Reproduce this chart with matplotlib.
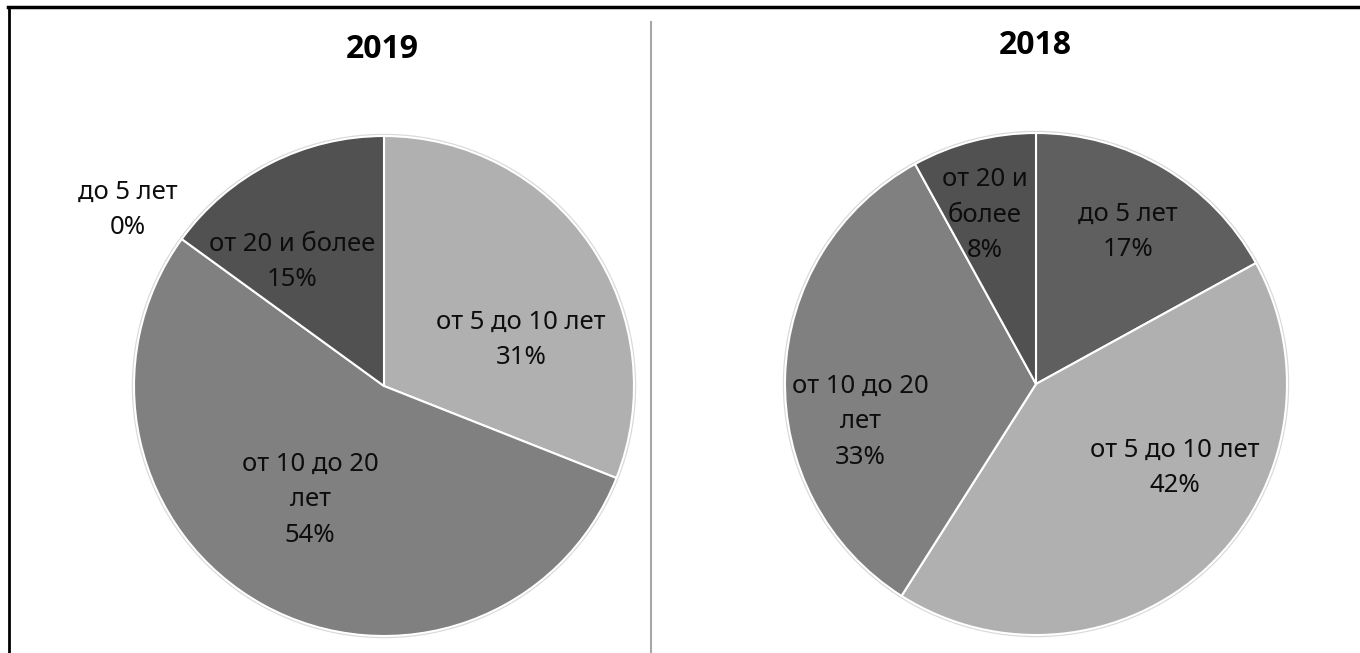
import matplotlib
matplotlib.use("Agg")
import matplotlib.pyplot as plt

plt.rcParams['font.family'] = ['Noto Sans', 'DejaVu Sans']

W, H = 1360, 653

categories = ['до 5 лет', 'от 5 до 10 лет', 'от 10 до 20 лет', 'от 20 и более']
values_2019 = [0, 31, 54, 15]
values_2018 = [17, 42, 33, 8]

# how the labels are wrapped on each chart
labels_2019 = ['до 5 лет', 'от 5 до 10 лет', 'от 10 до 20\nлет', 'от 20 и более']
labels_2018 = ['до 5 лет', 'от 5 до 10 лет', 'от 10 до 20\nлет', 'от 20 и\nболее']

colors = ['#5f5f5f', '#b0b0b0', '#808080', '#515151']

# layout in pixels (y from top)
charts = [
    dict(title='2019', values=values_2019, labels=labels_2019,
         center=(384, 386), radius=250, title_pos=(382, 50),
         label_pos=[(128, 210), (521, 340), (310, 500), (292, 262)]),
    dict(title='2018', values=values_2018, labels=labels_2018,
         center=(1036, 384), radius=251, title_pos=(1035, 46),
         label_pos=[(1128, 232), (1175, 468), (860, 422), (985, 215)]),
]

fig = plt.figure(figsize=(W / 100, H / 100), dpi=100)
ax = fig.add_axes([0, 0, 1, 1])

for ch in charts:
    cx, cy = ch['center']
    c = (cx, H - cy)
    shadow = plt.Circle(c, ch['radius'] + 1.5, color='#d9d9d9', zorder=0)
    ax.add_patch(shadow)
    ax.pie(ch['values'], colors=colors, startangle=90, counterclock=False,
           center=c, radius=ch['radius'],
           wedgeprops=dict(edgecolor='white', linewidth=1.5))
    for lab, v, (lx, ly) in zip(ch['labels'], ch['values'], ch['label_pos']):
        ax.text(lx, H - ly, f'{lab}\n{v}%', ha='center', va='center',
                fontsize=18.5, color='#0d0d0d', linespacing=1.55, zorder=5)
    tx, ty = ch['title_pos']
    ax.text(tx, H - ty, ch['title'], ha='center', va='center',
            fontsize=23, fontweight='bold', color='black',
            family=['Open Sans', 'DejaVu Sans'])

# divider and table borders
ax.plot([651, 651], [0, H - 22], color='#a6a6a6', lw=1.5)
ax.plot([8, W], [H - 6.5, H - 6.5], color='black', lw=2.5)
ax.plot([9, 9], [0, H - 6.5], color='black', lw=2)

ax.set_xlim(0, W)
ax.set_ylim(0, H)
ax.set_aspect('auto')
ax.axis('off')

fig.savefig('out.png', dpi=100, facecolor='white')
